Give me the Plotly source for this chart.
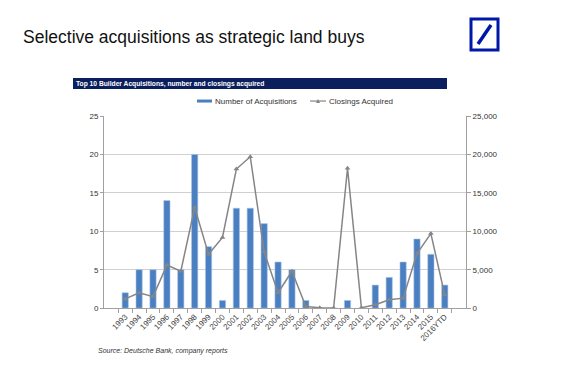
import plotly.graph_objects as go

years = ["1993", "1994", "1995", "1996", "1997", "1998", "1999", "2000", "2001", "2002",
         "2003", "2004", "2005", "2006", "2007", "2008", "2009", "2010", "2011", "2012",
         "2013", "2014", "2015", "2016YTD"]
acquisitions = [2, 5, 5, 14, 5, 20, 8, 1, 13, 13, 11, 6, 5, 1, 0, 0, 1, 0, 3, 4, 6, 9, 7, 3]
closings = [1200, 2000, 1500, 5600, 4800, 13100, 7000, 9200, 18100, 19700, 7300, 2000, 4800,
            200, 50, 0, 18200, 50, 450, 1100, 1300, 7100, 9700, 1700]

W, H = 587, 366


def px(X):
    return (X - 8) / W


def py(Y):
    return 1 - ((Y - 12) / 0.975) / H


FONT = "Liberation Sans, Arial, sans-serif"
GRAY = "#858585"

fig = go.Figure()
fig.add_trace(go.Bar(x=years, y=acquisitions, name="Number of Acquisitions",
                     marker=dict(color="#4a7fc1", line=dict(color="#a9c4e6", width=0.6)),
                     width=0.45, yaxis="y"))
fig.add_trace(go.Scatter(x=years, y=closings, name="Closings Acquired", yaxis="y2",
                         mode="lines+markers",
                         line=dict(color=GRAY, width=1.5),
                         marker=dict(symbol="triangle-up", size=5, color=GRAY)))

tickfont = dict(family=FONT, size=8, color="#333333")
fig.update_layout(
    width=W, height=H, margin=dict(l=0, r=0, t=0, b=0),
    paper_bgcolor="white", plot_bgcolor="white",
    font=dict(family=FONT),
    showlegend=False,
    xaxis=dict(domain=[px(104), px(466)], type="category", tickangle=-45,
               tickfont=dict(family=FONT, size=8, color="#444444"),
               showline=True, linecolor="#a0a0a0", linewidth=1,
               ticks="outside", ticklen=4, tickcolor="#a0a0a0", tickson="boundaries",
               showgrid=False, anchor="y"),
    yaxis=dict(domain=[py(308), py(116)], range=[0, 25], dtick=5, tickfont=tickfont,
               showgrid=True, gridcolor="#d0d0d0", gridwidth=1,
               showline=True, linecolor="#a0a0a0", ticks="outside", ticklen=3,
               tickcolor="#a0a0a0", zeroline=False),
    yaxis2=dict(overlaying="y", side="right", range=[0, 25000], dtick=5000,
                tickformat=",d", tickfont=tickfont, showgrid=False,
                showline=True, linecolor="#a0a0a0", ticks="outside", ticklen=4,
                tickcolor="#a0a0a0", zeroline=False, anchor="x"),
)

# Title
fig.add_annotation(text="Selective acquisitions as strategic land buys", x=px(21), y=py(37),
                   xref="paper", yref="paper", xanchor="left", yanchor="middle",
                   showarrow=False, font=dict(size=17.5, color="#111111", family=FONT))
# Banner
fig.add_shape(type="rect", xref="paper", yref="paper", x0=px(73), x1=px(447),
              y0=py(89), y1=py(78), fillcolor="#0a1f5c", line=dict(width=0))
fig.add_annotation(text="<b>Top 10 Builder Acquisitions, number and closings acquired</b>",
                   x=px(74), y=py(83.5), xref="paper", yref="paper", xanchor="left",
                   yanchor="middle", showarrow=False,
                   font=dict(size=6.7, color="white", family=FONT))
# Logo
fig.add_shape(type="rect", xref="paper", yref="paper", x0=px(471), x1=px(498),
              y0=py(50), y1=py(19), fillcolor="white",
              line=dict(color="#0018a8", width=3))
fig.add_shape(type="line", xref="paper", yref="paper", x0=px(478), x1=px(491),
              y0=py(44), y1=py(25), line=dict(color="#0018a8", width=3.5))

# Manual legend
fig.add_shape(type="rect", xref="paper", yref="paper", x0=px(197), x1=px(212),
              y0=py(102.5), y1=py(99.5), fillcolor="#4a7fc1", line=dict(width=0))
fig.add_annotation(text="Number of Acquisitions", x=px(213), y=py(101), xref="paper",
                   yref="paper", xanchor="left", yanchor="middle", showarrow=False,
                   font=dict(size=8, color="#333333", family=FONT))
fig.add_shape(type="line", xref="paper", yref="paper", x0=px(310), x1=px(326),
              y0=py(101), y1=py(101), line=dict(color=GRAY, width=1.2))
fig.add_shape(type="path", xref="paper", yref="paper",
              path=f"M {px(316)} {py(103)} L {px(320)} {py(103)} L {px(318)} {py(99)} Z",
              fillcolor=GRAY, line=dict(width=0))
fig.add_annotation(text="Closings Acquired", x=px(327), y=py(101), xref="paper",
                   yref="paper", xanchor="left", yanchor="middle", showarrow=False,
                   font=dict(size=8, color="#333333", family=FONT))

# Source
fig.add_annotation(text="<i>Source: Deutsche Bank, company reports</i>", x=px(96), y=py(351),
                   xref="paper", yref="paper", xanchor="left", yanchor="middle",
                   showarrow=False, font=dict(size=7, color="#333333", family=FONT))

fig.write_html("out.html")
